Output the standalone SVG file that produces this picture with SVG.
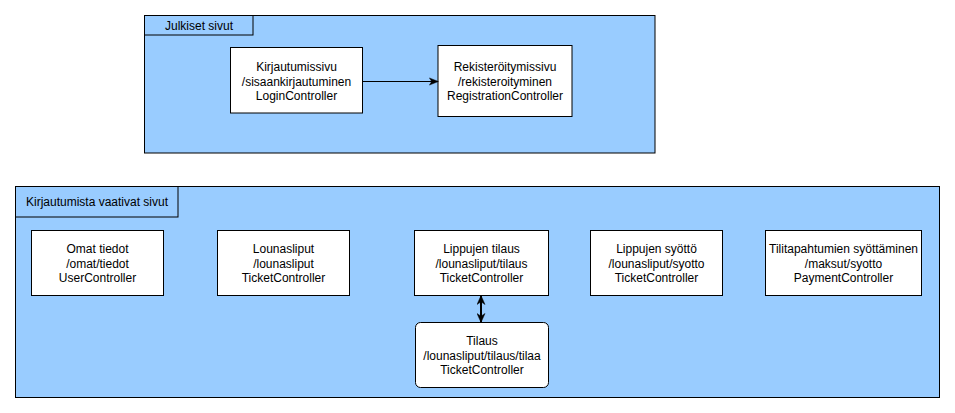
<svg xmlns="http://www.w3.org/2000/svg" width="955" height="413" viewBox="0 0 955 413">
  <style>
    .frame { fill: #99ccff; stroke: #000; stroke-width: 1; }
    .box { fill: #fff; stroke: #000; stroke-width: 1; }
    .edge { fill: none; stroke: #000; stroke-width: 1; }
    .edge-bold { fill: none; stroke: #000; stroke-width: 2; }
    text { font-family: "Liberation Sans", Arial, Helvetica, sans-serif; font-size: 12px; fill: #000; text-anchor: middle; }
  </style>
  <defs>
    <marker id="arrow" viewBox="0 0 10 10" refX="9" refY="5" markerWidth="10" markerHeight="9" markerUnits="userSpaceOnUse" orient="auto-start-reverse">
      <path d="M0,1 L10,5 L0,9 L2.5,5 Z" fill="#000" stroke="#000" stroke-width="0.5"/>
    </marker>
    <marker id="arrow-bold" viewBox="0 0 10 10" refX="9.5" refY="5" markerWidth="10" markerHeight="9" markerUnits="userSpaceOnUse" orient="auto-start-reverse">
      <path d="M0,0.5 L10,5 L0,9.5 L3,5 Z" fill="#000" stroke="#000" stroke-width="0.5"/>
    </marker>
  </defs>

  <!-- Public pages frame -->
  <g id="julkiset">
    <rect class="frame" x="144.5" y="15.5" width="510.5" height="137.5"/>
    <rect class="frame" x="144.5" y="15.5" width="108.5" height="19.5"/>
    <text x="199" y="29.5">Julkiset sivut</text>
  </g>

  <!-- Pages requiring login frame -->
  <g id="kirjautumista">
    <rect class="frame" x="15.5" y="186.5" width="924" height="211"/>
    <rect class="frame" x="15.5" y="186.5" width="162.5" height="30.5"/>
    <text x="97" y="206">Kirjautumista vaativat sivut</text>
  </g>

  <g id="login">
    <rect class="box" x="230.5" y="47.5" width="132" height="65.5"/>
    <text x="296.5" y="71">Kirjautumissivu</text>
    <text x="296.5" y="85.5">/sisaankirjautuminen</text>
    <text x="296.5" y="100">LoginController</text>
  </g>

  <g id="registration">
    <rect class="box" x="438" y="45.5" width="134" height="71"/>
    <text x="505" y="71">Rekisteröitymissivu</text>
    <text x="505" y="85.5">/rekisteroityminen</text>
    <text x="505" y="100">RegistrationController</text>
  </g>

  <g id="omat">
    <rect class="box" x="31.5" y="230.5" width="132" height="65"/>
    <text x="97.5" y="253">Omat tiedot</text>
    <text x="97.5" y="267.5">/omat/tiedot</text>
    <text x="97.5" y="282">UserController</text>
  </g>

  <g id="lounasliput">
    <rect class="box" x="217.5" y="230.5" width="132" height="65"/>
    <text x="283.5" y="253">Lounasliput</text>
    <text x="283.5" y="267.5">/lounasliput</text>
    <text x="283.5" y="282">TicketController</text>
  </g>

  <g id="tilaus-sivu">
    <rect class="box" x="414.5" y="230.5" width="134" height="65"/>
    <text x="481.5" y="253">Lippujen tilaus</text>
    <text x="481.5" y="267.5">/lounasliput/tilaus</text>
    <text x="481.5" y="282">TicketController</text>
  </g>

  <g id="syotto">
    <rect class="box" x="590.5" y="230.5" width="132" height="65"/>
    <text x="656.5" y="253">Lippujen syöttö</text>
    <text x="656.5" y="267.5">/lounasliput/syotto</text>
    <text x="656.5" y="282">TicketController</text>
  </g>

  <g id="maksut">
    <rect class="box" x="765.5" y="230.5" width="156" height="65"/>
    <text x="843.5" y="253">Tilitapahtumien syöttäminen</text>
    <text x="843.5" y="267.5">/maksut/syotto</text>
    <text x="843.5" y="282">PaymentController</text>
  </g>

  <g id="tilaa">
    <rect class="box" x="415.5" y="322.5" width="133" height="65" rx="5" ry="5"/>
    <text x="482" y="345">Tilaus</text>
    <text x="482" y="359.5">/lounasliput/tilaus/tilaa</text>
    <text x="482" y="374">TicketController</text>
  </g>

  <!-- Connectors -->
  <g id="connectors">
    <path class="edge" d="M362.5,81.5 L437.5,81.5" marker-end="url(#arrow)"/>
    <path class="edge-bold" d="M481,296 L481,322" marker-start="url(#arrow-bold)" marker-end="url(#arrow-bold)"/>
  </g>
</svg>
